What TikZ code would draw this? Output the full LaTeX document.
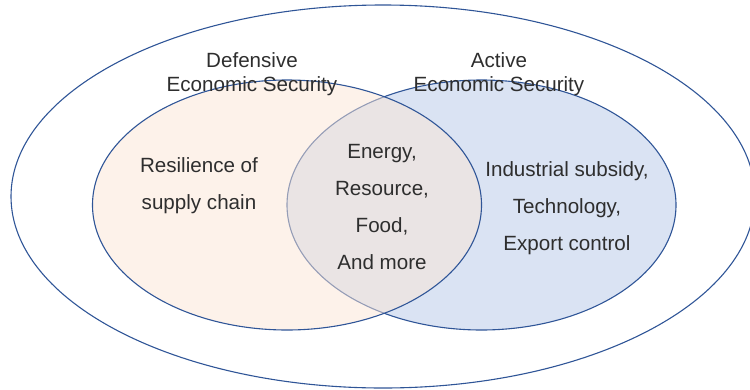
\documentclass[tikz,border=0pt]{standalone}
\usepackage{fontspec}
\setmainfont{Liberation Sans}
\usetikzlibrary{shapes.geometric}
\definecolor{rim}{HTML}{2F5597}
\definecolor{peach}{HTML}{FBE5D6}
\definecolor{paleblue}{HTML}{DAE3F3}
\definecolor{ink}{HTML}{2E2E2E}
\tikzset{
  ring/.style={ellipse, draw=rim, line width=1.1pt, inner sep=0pt},
  label/.style={text=ink, align=center, font=\fontsize{20.6}{24}\selectfont},
  items/.style={text=ink, align=center, font=\fontsize{20.6}{37}\selectfont}
}
\begin{document}
\begin{tikzpicture}[x=1pt,y=-1pt]
  \useasboundingbox (0,0) rectangle (750,389);
  % outer boundary
  \node[ring, minimum width=744pt, minimum height=383pt] (outer) at (383,196.5) {};
  % active (right) and defensive (left) sets
  \node[ring, fill=paleblue, minimum width=389pt, minimum height=250pt] (active) at (481.5,205) {};
  \node[ring, fill=peach, fill opacity=0.5, minimum width=389pt, minimum height=250pt] (defensive) at (287,205) {};
  % headings
  \node[label] (deftitle) at (252,74) {Defensive\\Economic Security};
  \node[label] (acttitle) at (499,74) {Active\\Economic Security};
  % contents
  \node[items] (deftext) at (199,185.5) {Resilience of\\supply chain};
  \node[items] (common) at (382,207.5) {Energy,\\Resource,\\Food,\\And more};
  \node[items] (acttext) at (567,208.5) {Industrial subsidy,\\Technology,\\Export control};
\end{tikzpicture}
\end{document}
